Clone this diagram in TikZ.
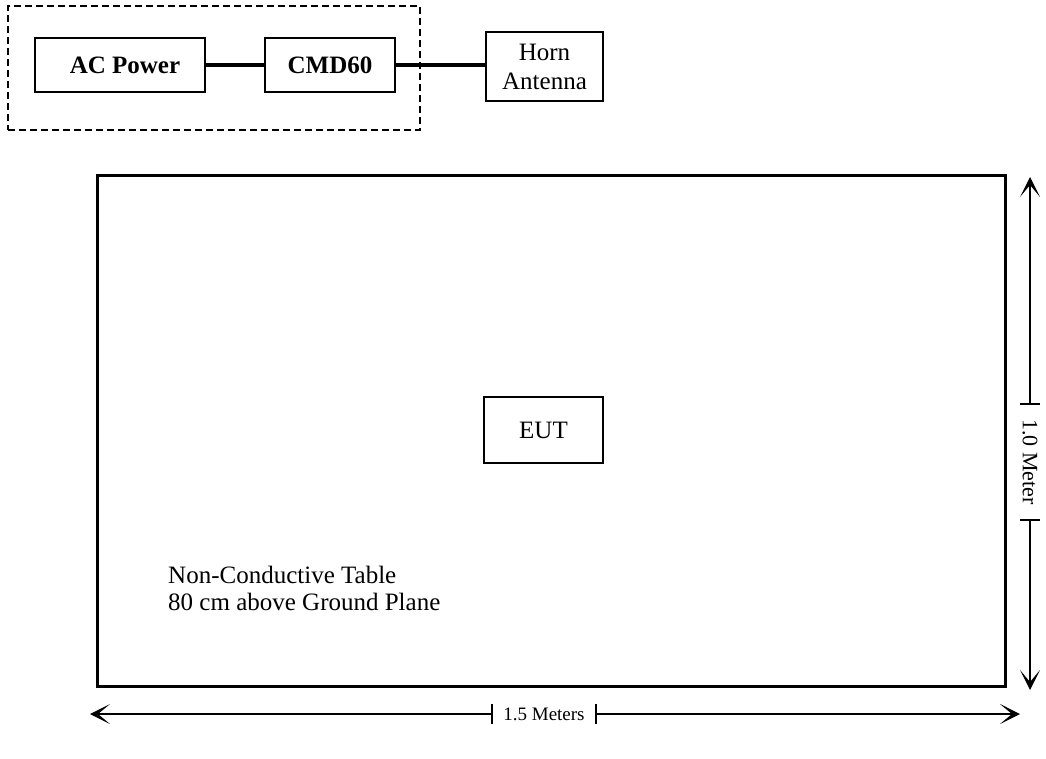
\documentclass[tikz,border=0pt]{standalone}
\usepackage{fontspec}
\setmainfont{Liberation Serif}
\usetikzlibrary{arrows.meta}
\tikzset{
  box/.style={draw, line width=1.8pt, inner sep=0pt, align=center, font=\fontsize{25}{29}\selectfont},
  conn/.style={line width=3.5pt},
  dimline/.style={line width=1.5pt},
  dimtip/.tip={Stealth[length=20pt,width=20pt,inset=12pt]},
  bartip/.tip={Bar[width=20pt,line width=1.5pt]},
}
\begin{document}
\begin{tikzpicture}[x=1pt,y=-1pt]
\useasboundingbox (0,0) rectangle (1046,758);
% group
\node[draw, line width=1.4pt, dash pattern=on 7pt off 4pt, minimum width=412pt, minimum height=124pt, inner sep=0pt] (grp) at (214,68) {};
\node[box, minimum width=170pt, minimum height=54pt] (ac) at (120,65) {\bfseries\hspace*{10pt}AC Power};
\node[box, minimum width=130pt, minimum height=54pt] (cmd) at (330,65) {\bfseries CMD60};
\node[box, minimum width=117pt, minimum height=69pt] (horn) at (544.5,66.5) {Horn\\Antenna};
\draw[conn] (ac) -- (cmd);
\draw[conn] (cmd.east) -- (cmd.east -| horn.west);
% table
\node[draw, line width=3pt, minimum width=908pt, minimum height=511pt, inner sep=0pt] (table) at (551,430.5) {};
\node[box, minimum width=119pt, minimum height=66pt] (eut) at (543.5,430) {EUT};
\node[anchor=north west, align=left, inner sep=0pt, font=\fontsize{25}{27}\selectfont] (note) at (168,566) {Non-Conductive Table\\80 cm above Ground Plane};
% vertical dimension
\coordinate (vt) at (1030,177);
\coordinate (vb) at (1030,690);
\node[rotate=-90, minimum width=114pt, inner sep=0pt, font=\fontsize{22}{24}\selectfont] (vl) at (1030,462) {1.0 Meter};
\draw[dimline, {bartip}-{dimtip}] (vl.west) -- (vt);
\draw[dimline, {bartip}-{dimtip}] (vl.east) -- (vb);
% horizontal dimension
\coordinate (hl0) at (90,714);
\coordinate (hr0) at (1020,714);
\node[minimum width=102pt, inner sep=0pt, font=\fontsize{19}{21}\selectfont] (hl) at (544,714) {1.5 Meters};
\draw[dimline, {bartip}-{dimtip}] (hl.west) -- (hl0);
\draw[dimline, {bartip}-{dimtip}] (hl.east) -- (hr0);
\end{tikzpicture}
\end{document}
